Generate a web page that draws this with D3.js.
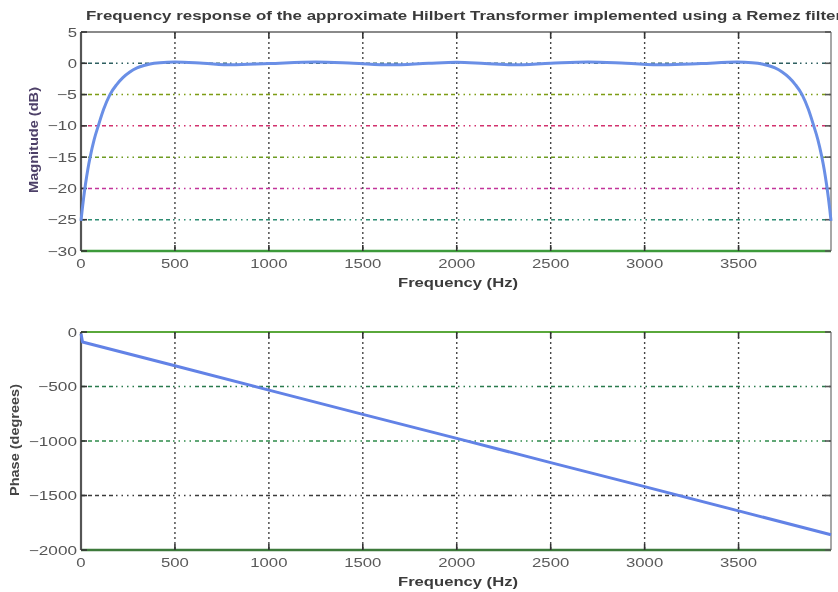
<!DOCTYPE html>
<html>
<head>
<meta charset="utf-8">
<script src="https://cdn.jsdelivr.net/npm/d3@7"></script>
<style>
  html, body { margin: 0; padding: 0; background: #fff; }
  svg { display: block; }
  text { font-family: "Liberation Sans", Arial, Helvetica, sans-serif; }
</style>
</head>
<body>
<svg id="chart" width="838" height="592"></svg>
<script>
// Magnitude response (dB) of the Remez Hilbert transformer
const magFreq = [0, 6, 14, 24, 36, 50, 70, 95, 120, 154, 190, 223, 260, 298, 335, 367, 420, 500,
  650, 800, 1000, 1250, 1450, 1650, 1850, 2000, 2150, 2300, 2500, 2700, 2900, 3100, 3300, 3492,
  3572, 3625, 3657, 3694, 3732, 3769, 3802, 3838, 3872, 3897, 3922, 3942, 3956, 3968, 3978, 3986, 3992];
const magDb = [-25.2, -23.5, -21.5, -19.3, -17, -14.8, -12.2, -9.7, -7.4, -5, -3.4, -2.3, -1.4, -0.75, -0.35, -0.1, 0.1, 0.2,
  0.0, -0.25, -0.05, 0.2, 0.0, -0.25, 0.0, 0.15, -0.05, -0.25, 0.0, 0.2, 0.0, -0.25, -0.05, 0.2,
  0.1, -0.1, -0.35, -0.75, -1.4, -2.3, -3.4, -5, -7.4, -9.7, -12.2, -14.8, -17, -19.3, -21.5, -23.5, -25.2];

// Phase response (degrees)
const phaseFreq = [0, 8, 500, 1000, 1500, 2000, 2500, 3000, 3500, 3992];
const phaseDeg = [-15, -92, -310, -533, -756, -976, -1198, -1419, -1641, -1860];

// Axis ticks
const freqTicks = [0, 500, 1000, 1500, 2000, 2500, 3000, 3500];
const magTicks = [5, 0, -5, -10, -15, -20, -25, -30];
const phaseTicks = [0, -500, -1000, -1500, -2000];

// Grid line colours (horizontal), per tick value
const magGridColors = { "0": "#2f5f60", "-5": "#7c9c14", "-10": "#d2306e", "-15": "#6e9c22", "-20": "#c2349a", "-25": "#2f8c72" };
const phaseGridColors = { "-500": "#2a7a4c", "-1000": "#2f8a4a", "-1500": "#3a3a3a" };

const svg = d3.select("#chart");

const defs = svg.append("defs");
defs.append("filter").attr("id", "soft")
  .append("feGaussianBlur").attr("stdDeviation", 0.35);

const X0 = 81, X1 = 831;
const x = d3.scaleLinear().domain([0, 3992]).range([X0, X1]);
const yMag = d3.scaleLinear().domain([-30, 5]).range([251, 32]);
const yPh = d3.scaleLinear().domain([-2000, 0]).range([550, 332]);

const root = svg.append("g").attr("filter", "url(#soft)");

function labelWidth(s) {
  let w = 0;
  for (const c of s) w += (c === "-" || c === "\u2212") ? 11 : 9.3;
  return w;
}

function panel(y, yTicks, gridColors, topColor, bottomColor, leftColor, rightColor) {
  const g = root.append("g");
  const yTop = y.range()[1], yBot = y.range()[0];

  // vertical grid lines
  freqTicks.filter(t => t > 0).forEach(t => {
    g.append("line")
      .attr("x1", x(t)).attr("x2", x(t)).attr("y1", yTop).attr("y2", yBot)
      .attr("stroke", "#444").attr("stroke-width", 1.4)
      .attr("stroke-dasharray", "2,3");
  });
  // horizontal grid lines
  yTicks.forEach(t => {
    const c = gridColors[String(t)];
    if (!c) return;
    g.append("line")
      .attr("x1", X0).attr("x2", X1).attr("y1", y(t)).attr("y2", y(t))
      .attr("stroke", c).attr("stroke-width", 1.5)
      .attr("stroke-dasharray", "4,3,4,3,4,3,4,3,4,3,1.5,4,1.5,4,1.5,4,1.5,4");
  });

  // frame
  g.append("line").attr("x1", X0).attr("x2", X1).attr("y1", yTop).attr("y2", yTop)
    .attr("stroke", topColor).attr("stroke-width", 2);
  g.append("line").attr("x1", X0).attr("x2", X1).attr("y1", yBot).attr("y2", yBot)
    .attr("stroke", bottomColor).attr("stroke-width", 2.4);
  g.append("line").attr("x1", X1).attr("x2", X1).attr("y1", yTop).attr("y2", yBot)
    .attr("stroke", rightColor).attr("stroke-width", 1.5);
  g.append("line").attr("x1", X0).attr("x2", X0).attr("y1", yTop).attr("y2", yBot)
    .attr("stroke", leftColor).attr("stroke-width", 2.2);

  // inward ticks
  freqTicks.filter(t => t > 0).forEach(t => {
    g.append("line").attr("x1", x(t)).attr("x2", x(t)).attr("y1", yBot).attr("y2", yBot - 6)
      .attr("stroke", "#333").attr("stroke-width", 1.6);
    g.append("line").attr("x1", x(t)).attr("x2", x(t)).attr("y1", yTop).attr("y2", yTop + 6)
      .attr("stroke", "#333").attr("stroke-width", 1.6);
  });
  yTicks.forEach(t => {
    g.append("line").attr("x1", X0).attr("x2", X0 + 6).attr("y1", y(t)).attr("y2", y(t))
      .attr("stroke", "#333").attr("stroke-width", 1.6);
    g.append("line").attr("x1", X1).attr("x2", X1 - 6).attr("y1", y(t)).attr("y2", y(t))
      .attr("stroke", "#555").attr("stroke-width", 1.6);
  });

  // tick labels
  freqTicks.forEach(t => {
    const s = String(t);
    g.append("text").attr("x", x(t)).attr("y", yBot + 17)
      .attr("text-anchor", "middle").attr("font-size", 12.5).attr("fill", "#5a5a5a")
      .attr("textLength", labelWidth(s)).attr("lengthAdjust", "spacingAndGlyphs")
      .text(s);
  });
  yTicks.forEach(t => {
    const s = t < 0 ? "\u2212" + Math.abs(t) : String(t);
    g.append("text").attr("x", 77).attr("y", y(t) + 4.5)
      .attr("text-anchor", "end").attr("font-size", 12.5).attr("fill", "#555")
      .attr("textLength", labelWidth(s)).attr("lengthAdjust", "spacingAndGlyphs")
      .text(s);
  });

  // x axis title
  g.append("text").attr("x", 458).attr("y", yBot + 36)
    .attr("text-anchor", "middle").attr("font-size", 12.5).attr("font-weight", "bold")
    .attr("fill", "#3a3a3a")
    .attr("textLength", 120).attr("lengthAdjust", "spacingAndGlyphs")
    .text("Frequency (Hz)");
  return g;
}

panel(yMag, magTicks, magGridColors, "#8a8a8a", "#3e9a3a", "#555", "#8a8a8a");
panel(yPh, phaseTicks, phaseGridColors, "#5aa83a", "#3d7a3a", "#555", "#8a8a8a");

// magnitude curve
const magLine = d3.line().curve(d3.curveMonotoneX)
  .x(i => x(magFreq[i])).y(i => yMag(magDb[i]));
root.append("path").attr("d", magLine(d3.range(magFreq.length)))
  .attr("fill", "none").attr("stroke", "#6a8fe6").attr("stroke-width", 3)
  .attr("stroke-linejoin", "round");

// phase curve
const phLine = d3.line()
  .x(i => x(phaseFreq[i])).y(i => yPh(phaseDeg[i]));
root.append("path").attr("d", phLine(d3.range(phaseFreq.length)))
  .attr("fill", "none").attr("stroke", "#6282e6").attr("stroke-width", 3)
  .attr("stroke-linejoin", "round");

// y axis titles
root.append("text").attr("transform", "translate(38,140) rotate(-90)")
  .attr("text-anchor", "middle").attr("font-size", 12.5).attr("font-weight", "bold")
  .attr("fill", "#4d4068")
  .attr("textLength", 106).attr("lengthAdjust", "spacingAndGlyphs")
  .text("Magnitude (dB)");
root.append("text").attr("transform", "translate(19,440) rotate(-90)")
  .attr("text-anchor", "middle").attr("font-size", 12.5).attr("font-weight", "bold")
  .attr("fill", "#444")
  .attr("textLength", 112).attr("lengthAdjust", "spacingAndGlyphs")
  .text("Phase (degrees)");

// chart title
root.append("text").attr("x", 86).attr("y", 20)
  .attr("font-size", 12.5).attr("font-weight", "bold").attr("fill", "#3a3a3a")
  .attr("textLength", 756).attr("lengthAdjust", "spacingAndGlyphs")
  .text("Frequency response of the approximate Hilbert Transformer implemented using a Remez filter");
</script>
</body>
</html>
